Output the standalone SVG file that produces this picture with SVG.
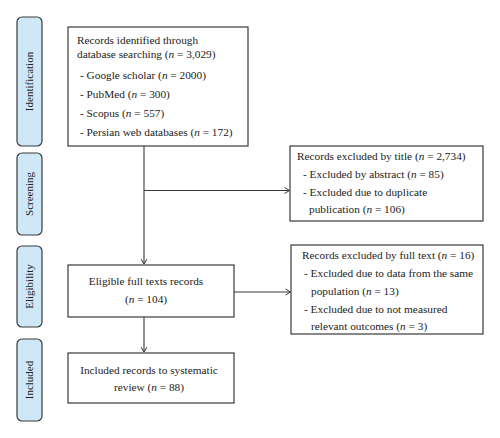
<svg xmlns="http://www.w3.org/2000/svg" width="500" height="438" viewBox="0 0 500 438">
<style>
.stage{fill:#cfe8f8;stroke:#3a3a3a;stroke-width:1.2}
.box{fill:#ffffff;stroke:#3a3a3a;stroke-width:1.2}
.t{font-family:"Liberation Serif","Times New Roman",serif;font-size:11.3px;fill:#222}
.st{font-family:"Liberation Serif","Times New Roman",serif;font-size:11px;fill:#222;text-anchor:middle}
.c{text-anchor:middle}
.conn{fill:none;stroke:#3a3a3a;stroke-width:1.1}
</style>
<defs>
<marker id="arr" markerWidth="8" markerHeight="8" refX="6" refY="4" orient="auto" markerUnits="userSpaceOnUse">
<path d="M1,1 L6,4 L1,7" fill="none" stroke="#3a3a3a" stroke-width="1"/>
</marker>
</defs>
<rect width="500" height="438" fill="#ffffff"/>
<g id="stage-identification">
<rect class="stage" x="17" y="17" width="25" height="129" rx="5"/>
<text class="st" transform="translate(33,81.5) rotate(-90)">Identification</text>
</g>
<g id="stage-screening">
<rect class="stage" x="17" y="153" width="25" height="82" rx="5"/>
<text class="st" transform="translate(33,194) rotate(-90)">Screening</text>
</g>
<g id="stage-eligibility">
<rect class="stage" x="17" y="246" width="25" height="81" rx="5"/>
<text class="st" transform="translate(33,286.5) rotate(-90)">Eligibility</text>
</g>
<g id="stage-included">
<rect class="stage" x="17" y="339" width="25" height="82" rx="5"/>
<text class="st" transform="translate(33,380) rotate(-90)">Included</text>
</g>
<g id="connectors">
<path class="conn" d="M144,146 V264" marker-end="url(#arr)"/>
<path class="conn" d="M144,190.5 H289.5" marker-end="url(#arr)"/>
<path class="conn" d="M234,292 H290.5" marker-end="url(#arr)"/>
<path class="conn" d="M144,317 V352" marker-end="url(#arr)"/>
</g>
<g id="node-identified">
<rect class="box" x="68" y="27" width="180" height="119"/>
<text class="t" x="77" y="44">Records identified through</text>
<text class="t" x="77" y="58">database searching (<tspan font-style="italic">n</tspan> = 3,029)</text>
<text class="t" x="80" y="79">- Google scholar (<tspan font-style="italic">n</tspan> = 2000)</text>
<text class="t" x="80" y="98">- PubMed (<tspan font-style="italic">n</tspan> = 300)</text>
<text class="t" x="80" y="117">- Scopus (<tspan font-style="italic">n</tspan> = 557)</text>
<text class="t" x="80" y="136">- Persian web databases (<tspan font-style="italic">n</tspan> = 172)</text>
</g>
<g id="node-excluded-title">
<rect class="box" x="290" y="146" width="193" height="75"/>
<text class="t" x="297" y="160">Records excluded by title (<tspan font-style="italic">n</tspan> = 2,734)</text>
<text class="t" x="303" y="178">- Excluded by abstract (<tspan font-style="italic">n</tspan> = 85)</text>
<text class="t" x="303" y="196">- Excluded due to duplicate</text>
<text class="t" x="309" y="213">publication (<tspan font-style="italic">n</tspan> = 106)</text>
</g>
<g id="node-eligible">
<rect class="box" x="68" y="265" width="166" height="52"/>
<text class="t c" x="146" y="285">Eligible full texts records</text>
<text class="t c" x="146" y="303">(<tspan font-style="italic">n</tspan> = 104)</text>
</g>
<g id="node-excluded-fulltext">
<rect class="box" x="291" y="245" width="192" height="89"/>
<text class="t" x="302" y="259">Records excluded by full text (<tspan font-style="italic">n</tspan> = 16)</text>
<text class="t" x="304" y="277">- Excluded due to data from the same</text>
<text class="t" x="311" y="295">population (<tspan font-style="italic">n</tspan> = 13)</text>
<text class="t" x="304" y="313">- Excluded due to not measured</text>
<text class="t" x="311" y="330">relevant outcomes (<tspan font-style="italic">n</tspan> = 3)</text>
</g>
<g id="node-included">
<rect class="box" x="68" y="353" width="166" height="50"/>
<text class="t c" x="149" y="374">Included records to systematic</text>
<text class="t c" x="149" y="391">review (<tspan font-style="italic">n</tspan> = 88)</text>
</g>
</svg>
